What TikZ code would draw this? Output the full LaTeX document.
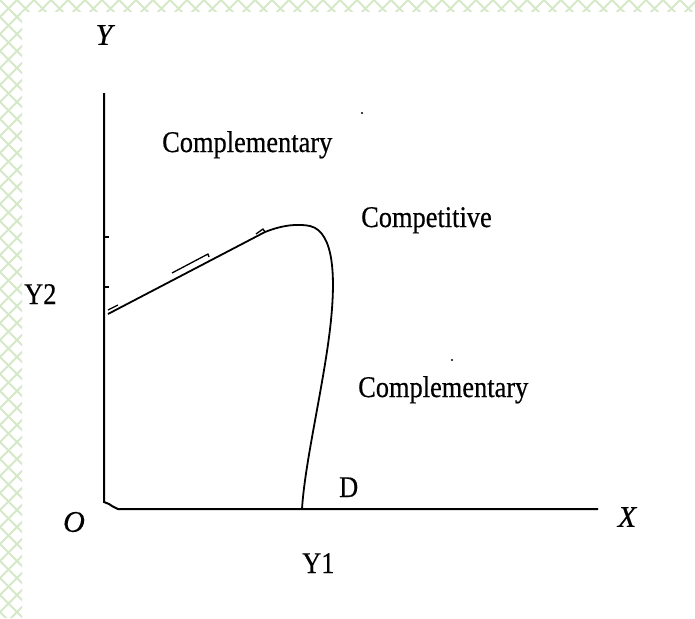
\documentclass[tikz,border=0pt]{standalone}
\usepackage{fontspec}
\setmainfont[FakeBold=0.5]{Liberation Serif}
\definecolor{hatch}{HTML}{D5E9C8}
\tikzset{
  lbl/.style={font=\fontsize{30}{30}\selectfont, inner sep=0pt, anchor=base west},
  ilbl/.style={font=\fontsize{30}{30}\selectfont\itshape, inner sep=0pt, anchor=center},
  axis/.style={line width=2pt, black},
  curve/.style={line width=1.8pt, black, line join=round},
}
\newcommand{\sq}[1]{\scalebox{0.88}[1]{#1}}
\begin{document}
\begin{tikzpicture}[x=1pt,y=-1pt]
\useasboundingbox (0,0) rectangle (695,618);
\fill[white] (0,0) rectangle (695,618);
% hatched border
\begin{scope}
  \clip (0,0) rectangle (695,12) (0,0) rectangle (22,618);
  \foreach \k in {-680,-663,...,1400} {
    \draw[hatch, line width=1.8pt] (\k,0) -- ++(660,660);
    \draw[hatch, line width=1.8pt] (\k,0) -- ++(-660,660);
  }
\end{scope}
% axes
\coordinate (ytop) at (104,93);
\coordinate (ybot) at (104,502);
\coordinate (corner) at (118,509);
\coordinate (xend) at (598,509);
\draw[axis] (ytop) -- (ybot) -- (109,504) -- (112,506) -- (corner) -- (xend);
\draw[axis, line width=1.4pt] (104,237) -- (109,237);
\draw[axis, line width=1.4pt] (104,287) -- (109,287);
% curve
\coordinate (cs) at (108,314);
\coordinate (ck) at (265,232);
\coordinate (cd) at (302,509);
\draw[curve] (cs) -- (ck) .. controls (285,224) and (300,224) .. (310,226)
  .. controls (335,232) and (335,280) .. (331,320)
  .. controls (325,380) and (305,460) .. (cd);
\draw[curve, line width=1.3pt] (172,273) -- (208,254) -- (209,257);
\draw[curve, line width=1.3pt] (108,310) -- (118,305);
\draw[curve, line width=1.3pt] (256,234) -- (263,229) -- (265,232);
% specks
\fill (362,113) circle (1.2);
\fill (452,360) circle (1.2);
% labels
\node[ilbl] (Y) at (104,35) {Y};
\node[ilbl] (X) at (627,517) {X};
\node[ilbl] (O) at (74,522) {O};
\node[lbl] (Y2) at (24,304) {\sq{Y2}};
\node[lbl] (Y1) at (302,573) {\sq{Y1}};
\node[lbl] (D) at (339,497) {\sq{D}};
\node[lbl] (comp1) at (162,152) {\sq{Complementary}};
\node[lbl] (compet) at (361,227) {\sq{Competitive}};
\node[lbl] (comp2) at (358,397) {\sq{Complementary}};
\end{tikzpicture}
\end{document}
